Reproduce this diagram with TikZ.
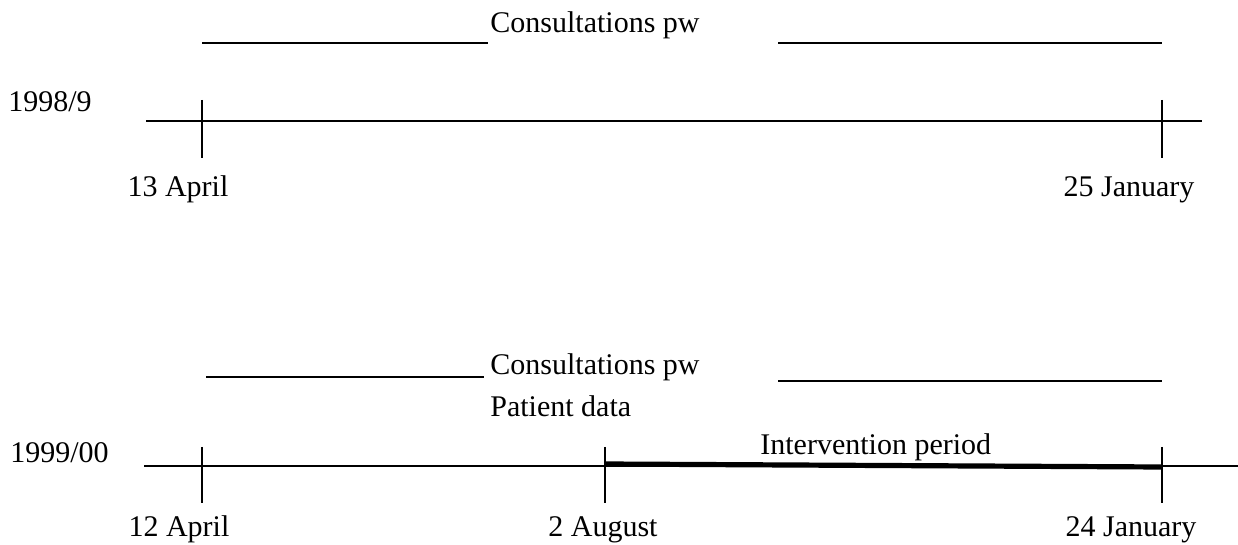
\documentclass[tikz,border=0pt]{standalone}
\usepackage{fontspec}
\setmainfont{Liberation Serif}
\tikzset{
  x=0.5pt, y=-0.5pt,
  axis/.style={line width=1pt},
  tickmark/.style={line width=1pt},
  period/.style={line width=2.6pt},
  txt/.style={inner sep=0pt, font=\fontsize{15}{18}\selectfont},
  datelabel/.style={txt, anchor=base},
}

\begin{document}
\begin{tikzpicture}
  \useasboundingbox (0,0) rectangle (1238,545);

  % first year
  \node[txt, anchor=base west] (yr1) at (8,112) {1998/9};
  \coordinate (ax1s) at (146,121);
  \coordinate (ax1e) at (1202,121);
  \draw[axis] (ax1s) -- (ax1e);
  \foreach \n/\x in {a/202, b/1162} {
    \coordinate (t1\n top) at (\x,100);
    \coordinate (t1\n bot) at (\x,158);
    \draw[tickmark] (t1\n top) -- (t1\n bot);
  }
  \node[datelabel] (d1a) at (178,197) {13 April};
  \node[datelabel] (d1b) at (1129,197) {25 January};

  \node[txt, anchor=base west] (cons1) at (490,33) {Consultations pw};
  \coordinate (c1l1) at (202,43);  \coordinate (c1l2) at (488,43);
  \coordinate (c1r1) at (778,43);  \coordinate (c1r2) at (1162,43);
  \draw[axis] (c1l1) -- (c1l2);
  \draw[axis] (c1r1) -- (c1r2);

  % second year
  \node[txt, anchor=base west] (yr2) at (10,462) {1999/00};
  \coordinate (ax2s) at (144,466);
  \coordinate (ax2e) at (1238,466);
  \draw[axis] (ax2s) -- (ax2e);
  \foreach \n/\x in {a/202, b/605, c/1162} {
    \coordinate (t2\n top) at (\x,447);
    \coordinate (t2\n bot) at (\x,503);
    \draw[tickmark] (t2\n top) -- (t2\n bot);
  }
  \coordinate (iv1) at (605,464);
  \coordinate (iv2) at (1162,467);
  \draw[period] (iv1) -- (iv2);
  \node[txt, anchor=base west] (ivtxt) at (760,455) {Intervention period};

  \node[datelabel] (d2a) at (179,537) {12 April};
  \node[datelabel] (d2b) at (603,537) {2 August};
  \node[datelabel] (d2c) at (1131,537) {24 January};

  \node[txt, anchor=base west] (cons2) at (490,375) {Consultations pw};
  \node[txt, anchor=base west] (pdata) at (490,416) {Patient data};
  \coordinate (c2l1) at (206,377);  \coordinate (c2l2) at (484,377);
  \coordinate (c2r1) at (778,381);  \coordinate (c2r2) at (1162,381);
  \draw[axis] (c2l1) -- (c2l2);
  \draw[axis] (c2r1) -- (c2r2);
\end{tikzpicture}
\end{document}
